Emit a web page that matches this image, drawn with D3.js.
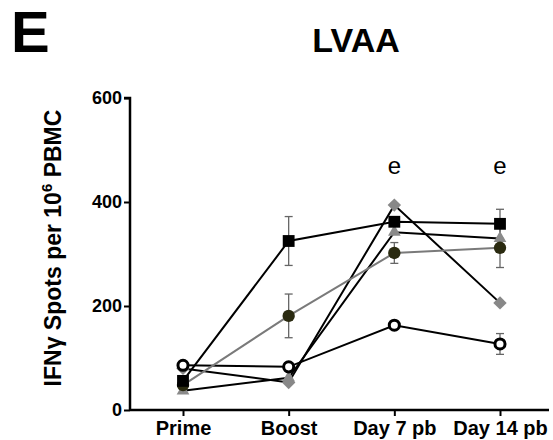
<!DOCTYPE html>
<meta charset="utf-8" />
<style>
  body { margin: 0; background: #fff; }
  text { font-family: "Liberation Sans", Arial, sans-serif; }
</style>
<svg width="553" height="440"></svg>
<script src="https://d3js.org/d3.v7.min.js"></script>
<script>
    // data
    var categories = ["Prime", "Boost", "Day 7 pb", "Day 14 pb"];
    var yTicks = [0, 200, 400, 600];

    var squareVals = [56, 325, 362, 358];
    var squareErr = [6, 47, 8, 28];
    var oliveVals = [48, 181, 302, 312];
    var oliveErr = [4, 42, 20, 38];
    var openVals = [86, 83, 163, 127];
    var openErr = [4, 6, 5, 20];
    var diamondVals = [80, 53, 394, 206];
    var triangleVals = [37, 62, 342, 330];

    var annotations = [{ cat: "Day 7 pb", text: "e" }, { cat: "Day 14 pb", text: "e" }];

    var svg = d3.select("svg");

    var x = d3.scalePoint().domain(categories).range([183, 500]);
    var y = d3.scaleLinear().domain([0, 600]).range([410, 98]);

    var series = [
        { name: "triangle", vals: triangleVals, err: null, line: "#000", shape: d3.symbolTriangle, size: 70, rot: 0, fill: "#8a8a8a", stroke: "none" },
        { name: "diamond", vals: diamondVals, err: null, line: "#000", shape: d3.symbolSquare, size: 90, rot: 45, fill: "#888", stroke: "none" },
        { name: "open", vals: openVals, err: openErr, line: "#000", shape: d3.symbolCircle, size: 80, rot: 0, fill: "#fff", stroke: "#000" },
        { name: "olive", vals: oliveVals, err: oliveErr, line: "#7a7a7a", shape: d3.symbolCircle, size: 120, rot: 0, fill: "#2a2a10", stroke: "none" },
        { name: "square", vals: squareVals, err: squareErr, line: "#000", shape: d3.symbolSquare, size: 140, rot: 0, fill: "#000", stroke: "none" }
    ];

    // axes
    var yAxis = d3.axisLeft(y).tickValues(yTicks).tickSize(6).tickPadding(2);
    var gy = svg.append("g").attr("transform", "translate(130,0)").call(yAxis);
    gy.select(".domain").attr("stroke-width", 2.5).attr("d", "M-6,98H0V410");
    gy.selectAll(".tick line").attr("stroke-width", 2);
    gy.selectAll(".tick text")
        .attr("font-size", 18).attr("font-weight", "bold")
        .style("font-family", "'Liberation Sans', Arial, sans-serif");

    var xAxis = d3.axisBottom(x).tickSize(6).tickPadding(5);
    var gx = svg.append("g").attr("transform", "translate(0,410)").call(xAxis);
    gx.select(".domain").attr("stroke-width", 2.5).attr("d", "M130,0H549");
    gx.selectAll(".tick line").attr("stroke-width", 2);
    gx.selectAll(".tick text")
        .attr("font-size", 20).attr("font-weight", "bold")
        .style("font-family", "'Liberation Sans', Arial, sans-serif");

    // lines
    var lineGen = d3.line()
        .x(function(d, i) { return x(categories[i]); })
        .y(function(d) { return y(d); });

    svg.append("g").selectAll("path")
        .data(series)
        .enter()
        .append("path")
        .attr("d", function(s) { return lineGen(s.vals); })
        .attr("fill", "none")
        .attr("stroke", function(s) { return s.line; })
        .attr("stroke-width", 2);

    // error bars
    series.forEach(function(s) {
        if (!s.err) return;
        var g = svg.append("g").attr("stroke", "#666").attr("stroke-width", 1.3);
        s.vals.forEach(function(v, i) {
            var cx = x(categories[i]);
            var top = y(v + s.err[i]), bot = y(v - s.err[i]);
            g.append("line").attr("x1", cx).attr("x2", cx).attr("y1", top).attr("y2", bot);
            g.append("line").attr("x1", cx - 4).attr("x2", cx + 4).attr("y1", top).attr("y2", top);
            g.append("line").attr("x1", cx - 4).attr("x2", cx + 4).attr("y1", bot).attr("y2", bot);
        });
    });

    // markers
    series.forEach(function(s) {
        svg.append("g").selectAll("path")
            .data(s.vals)
            .enter()
            .append("path")
            .attr("transform", function(d, i) { return "translate(" + x(categories[i]) + "," + y(d) + ") rotate(" + s.rot + ")"; })
            .attr("d", d3.symbol().type(s.shape).size(s.size))
            .attr("fill", s.fill)
            .attr("stroke", s.stroke)
            .attr("stroke-width", 3);
    });

    // significance letters
    svg.append("g").selectAll("text")
        .data(annotations)
        .enter()
        .append("text")
        .attr("x", function(d) { return x(d.cat); })
        .attr("y", 174)
        .attr("text-anchor", "middle")
        .attr("font-size", 24)
        .text(function(d) { return d.text; });

    // titles
    svg.append("text").attr("x", 11).attr("y", 52)
        .attr("font-size", 58).attr("font-weight", "bold")
        .text("E");
    svg.append("text").attr("x", 356).attr("y", 52)
        .attr("text-anchor", "middle")
        .attr("font-size", 34).attr("font-weight", "bold")
        .text("LVAA");

    var ylab = svg.append("text")
        .attr("transform", "translate(61,248) rotate(-90)")
        .attr("text-anchor", "middle")
        .attr("font-size", 23).attr("font-weight", "bold");
    ylab.append("tspan").text("IFN\u03B3 Spots per 10");
    ylab.append("tspan").attr("dy", -9).attr("font-size", 15).text("6");
    ylab.append("tspan").attr("dy", 9).text(" PBMC");
</script>
